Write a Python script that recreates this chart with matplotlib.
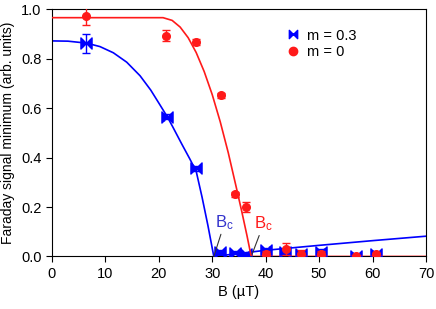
import matplotlib
matplotlib.use("Agg")
import matplotlib.pyplot as plt
from matplotlib.path import Path
from matplotlib.lines import Line2D

plt.rcParams["font.family"] = ["Liberation Sans", "DejaVu Sans"]
plt.rcParams["mathtext.fontset"] = "custom"
plt.rcParams["mathtext.rm"] = "Liberation Sans"
plt.rcParams["mathtext.it"] = "Liberation Sans"

# m = 0.3 data (blue)
b_blue = [6.4, 21.6, 27.0, 31.5, 34.3, 36.3, 40.0, 43.6, 46.7, 50.3, 57.0, 60.7]
y_blue = [0.862, 0.565, 0.356, 0.018, 0.016, 0.008, 0.025, 0.02, 0.009, 0.019, 0.002, 0.008]
yerr_blue = [0.037, 0.01, 0.01, 0.008, 0.008, 0.008, 0.01, 0.01, 0.008, 0.01, 0.006, 0.008]
xerr_blue = [0.8, 0.7, 0.7, 0.7, 0.7, 0.7, 0.7, 0.7, 0.7, 0.7, 0.7, 0.7]

# m = 0 data (red)
b_red = [6.4, 21.4, 26.9, 31.6, 34.3, 36.4, 40.0, 43.9, 46.7, 50.3, 57.0, 60.7]
y_red = [0.973, 0.893, 0.869, 0.653, 0.251, 0.201, 0.012, 0.031, 0.012, 0.012, 0.002, 0.008]
yerr_red = [0.036, 0.022, 0.012, 0.01, 0.01, 0.02, 0.01, 0.025, 0.015, 0.01, 0.005, 0.005]

# fit curves
fit_blue_b = [0, 3, 6.5, 9, 11.5, 14, 16.5, 18.5, 20, 21.6, 22.6, 24.3, 25.8, 27.0,
              28.1, 29.2, 30.3, 40, 50, 60, 70]
fit_blue_y = [0.872, 0.871, 0.863, 0.849, 0.824, 0.786, 0.731, 0.673, 0.621, 0.565,
              0.525, 0.455, 0.395, 0.345, 0.24, 0.125, 0.0, 0.025, 0.045, 0.064, 0.082]
fit_red_b = [0, 20.8, 22.5, 24.0, 25.5, 27.0, 28.5, 30.0, 31.5, 33.0, 34.5, 35.5,
             36.5, 37.3, 70]
fit_red_y = [0.966, 0.966, 0.955, 0.928, 0.885, 0.825, 0.748, 0.655, 0.545, 0.42,
             0.28, 0.185, 0.085, 0.0, 0.0]

bc_blue = 30.3
bc_red = 37.3

blue = "#0000ff"
red = "#ff1a1a"

bowtie = Path([(-1, -1), (-1, 1), (0, 0), (-1, -1),
               (1, -1), (1, 1), (0, 0), (1, -1)],
              [Path.MOVETO, Path.LINETO, Path.LINETO, Path.CLOSEPOLY,
               Path.MOVETO, Path.LINETO, Path.LINETO, Path.CLOSEPOLY])

fig = plt.figure(figsize=(4.36, 3.09), dpi=100)
ax = fig.add_axes([0.119, 0.170, 0.858, 0.800])

ax.plot(fit_blue_b, fit_blue_y, color=blue, lw=1.2, zorder=2)
ax.errorbar(b_blue, y_blue, yerr=yerr_blue, xerr=xerr_blue, fmt="none",
            ecolor=blue, elinewidth=1, capsize=3, zorder=3)
ax.plot(b_blue, y_blue, ls="none", marker=bowtie, ms=8, color=blue, zorder=3)

ax.plot(fit_red_b, fit_red_y, color=red, lw=1.2, zorder=4)
ax.errorbar(b_red, y_red, yerr=yerr_red, fmt="o", ms=5.5, color=red,
            ecolor=red, elinewidth=1, capsize=3, zorder=5)

# B_c labels
ax.annotate("B$_\\mathrm{c}$", xy=(bc_blue, 0.0), xytext=(30.6, 0.12),
            color="#3333cc", fontsize=12,
            arrowprops=dict(arrowstyle="-", color="#333333", lw=0.8,
                            shrinkA=0, shrinkB=0))
ax.annotate("B$_\\mathrm{c}$", xy=(bc_red, 0.0), xytext=(37.9, 0.115),
            color=red, fontsize=12,
            arrowprops=dict(arrowstyle="-", color="#333333", lw=0.8,
                            shrinkA=0, shrinkB=0))

handles = [Line2D([], [], ls="none", marker=bowtie, ms=6, color=blue),
           Line2D([], [], ls="none", marker="o", ms=6, color=red)]
ax.legend(handles, ["m = 0.3", "m = 0"], loc="upper left",
          bbox_to_anchor=(0.585, 0.975), frameon=False, fontsize=10.5,
          handletextpad=0.4, labelspacing=0.2, handlelength=1.2)

ax.set_xlim(0, 70)
ax.set_ylim(0, 1.0)
ax.set_xticks(range(0, 71, 10))
ax.set_yticks([0.0, 0.2, 0.4, 0.6, 0.8, 1.0])
ax.set_yticklabels(["0.0", "0.2", "0.4", "0.6", "0.8", "1.0"])
ax.tick_params(direction="out", length=4, labelsize=10.5)
ax.set_xlabel("B (µT)", fontsize=10.5, labelpad=3)
ax.set_ylabel("Faraday signal minimum (arb. units)", fontsize=10)

fig.savefig("out.png", dpi=100)
